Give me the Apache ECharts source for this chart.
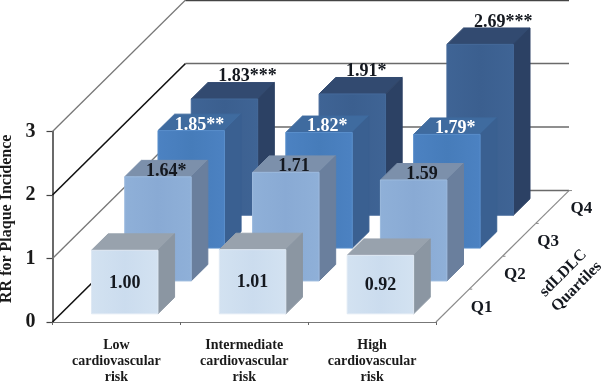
<!DOCTYPE html>
<html>
<head>
<meta charset="utf-8">
<style>html,body{margin:0;padding:0;background:#fff}#c{width:602px;height:381px}</style>
<script src="https://cdn.jsdelivr.net/npm/echarts@6/dist/echarts.min.js"></script>
</head>
<body>
<div id="c"></div>
<script>
const categories = ['Low\ncardiovascular\nrisk', 'Intermediate\ncardiovascular\nrisk', 'High\ncardiovascular\nrisk'];
const quartiles = ['Q1', 'Q2', 'Q3', 'Q4'];
const yTicks = [0, 1, 2, 3];
const q1Values = [1.00, 1.01, 0.92];
const q2Values = [1.64, 1.71, 1.59];
const q3Values = [1.85, 1.82, 1.79];
const q4Values = [1.83, 1.91, 2.69];
const q1Stars = ['', '', ''];
const q2Stars = ['*', '', ''];
const q3Stars = ['**', '*', '*'];
const q4Stars = ['***', '*', '***'];

// oblique projection of the depth axis onto the x / y scales
const DEPTH_X = 1.0404, DEPTH_Y = 2.07;
const SERIF = '"Liberation Serif","Times New Roman",serif';
const faces = [
  {front:['#d3e2f1','#cbdcee'], edge:'#dfe9f4', top:'#98a2ad', side:'#8b96a2', text:'#14181f'},
  {front:['#8fb0d8','#89aad4'], edge:'#9dbbdf', top:'#7c90ab', side:'#6a7f9d', text:'#14181f'},
  {front:['#4c82c2','#467cba'], edge:'#5a8fcb', top:'#3f6b9f', side:'#3a6091', text:'#ffffff'},
  {front:['#3f6495','#3b5f8f'], edge:'#45699a', top:'#324a70', side:'#2c4164', text:'#14181f'}
];
const valueLists = [q1Values, q2Values, q3Values, q4Values];
const starLists = [q1Stars, q2Stars, q3Stars, q4Stars];
const barData = [];
for (let q = quartiles.length - 1; q >= 0; q--) {
  for (let c = 0; c < categories.length; c++) barData.push([c, q, valueLists[q][c], starLists[q][c]]);
}

const BAR_W = 0.26;

function project(api, x, d, v) {
  const p = api.coord([x + d * DEPTH_X, v + d * DEPTH_Y]);
  return [p[0], p[1]];
}
function renderBar(params, api) {
  const c = api.value(0), q = api.value(1), v = api.value(2);
  const stars = barData[params.dataIndex][3];
  const f = faces[q];
  const mid = c + 0.5;
  const x0 = mid - BAR_W, x1 = mid + BAR_W;
  const d0 = (q + 0.25) / 4, d1 = (q + 0.75) / 4;
  const A = project(api, x0, d0, 0), B = project(api, x1, d0, 0), C = project(api, x1, d0, v), D = project(api, x0, d0, v);
  const E = project(api, x1, d1, 0), G = project(api, x1, d1, v), H = project(api, x0, d1, v);
  const poly = (pts, fill, stroke) => ({type:'polygon', shape:{points:pts}, style:{fill:fill, stroke:stroke || fill, lineWidth:1, lineJoin:'round'}});
  const kids = [
    poly([D, C, G, H], f.top),
    poly([B, E, G, C], f.side),
    poly([A, B, C, D], {type:'linear',x:0,y:0,x2:1,y2:0,colorStops:[{offset:0,color:f.front[0]},{offset:0.5,color:f.front[1]},{offset:1,color:f.front[0]}]}, f.edge)
  ];
  const font = 'bold 18px ' + SERIF;
  const label = v.toFixed(2) + stars;
  let tx, ty, align = 'center';
  const mx = (A[0] + B[0]) / 2;
  if (q === 0) { tx = mx; ty = (A[1] + D[1]) / 2 + 1; }
  else if (q === 3) { tx = D[0] + 27; ty = H[1] - 6; align = 'left'; }
  else { tx = (D[0] + G[0]) / 2; ty = (D[1] + G[1]) / 2 + 2.5; }
  kids.push({type:'text', style:{x:tx, y:ty, text:label, font:font, fill:f.text, align:align, verticalAlign:'middle'}});
  return {type:'group', children:kids};
}
function renderWall(params, api) {
  const v = api.value(0);
  const a = project(api, 0, 0, v), b = project(api, 0, 1, v), e = project(api, 3, 1, v);
  const dark = v === 0 || v === 2;
  const kids = [{type:'line', shape:{x1:a[0],y1:a[1],x2:b[0],y2:b[1]}, style:{stroke: dark ? '#111' : '#777', lineWidth: dark ? 1.6 : 1.3}},
                {type:'line', shape:{x1:b[0],y1:b[1],x2:e[0],y2:e[1]}, style:{stroke: v === 3 ? '#444' : '#6a6a6a', lineWidth: v === 3 ? 2.5 : 1.5}}];
  return {type:'group', children:kids};
}
function renderDepthAxis(params, api) {
  const i = api.value(0);
  const s = project(api, 3, i / 4, 0), e = project(api, 3, (i + 1) / 4, 0), m = project(api, 3, (i + 0.5) / 4, 0);
  return {type:'group', children:[
    {type:'line', shape:{x1:s[0],y1:s[1],x2:e[0],y2:e[1]}, style:{stroke:'#8a8a8a', lineWidth:1.2}},
    {type:'line', shape:{x1:e[0],y1:e[1],x2:e[0]+3,y2:e[1]}, style:{stroke:'#8a8a8a', lineWidth:1}},
    {type:'text', style:{x:m[0]+29, y:m[1]+2, text:quartiles[i], font:'bold 17px '+SERIF, fill:'#14181f', align:'center', verticalAlign:'middle'}}
  ]};
}

const chart = echarts.init(document.getElementById('c'), null, {renderer:'canvas'});
chart.setOption({
  animation:false,
  backgroundColor:'#fff',
  grid:{left:52.5, top:131.5, width:383.5, height:190.5, containLabel:false, outerBoundsMode:'none'},
  xAxis:[
    {type:'category', data:categories, boundaryGap:true, position:'bottom',
     axisLine:{show:true, lineStyle:{color:'#777', width:1.2}},
     axisTick:{show:true, alignWithLabel:false, length:3, lineStyle:{color:'#666'}},
     axisLabel:{interval:0, margin:15, color:'#1a1a1a', lineHeight:16, fontFamily:SERIF, fontWeight:'bold', fontSize:14, hideOverlap:false},
     splitLine:{show:false}, z:1},
    {type:'value', min:0, max:3, show:false}
  ],
  yAxis:{type:'value', min:yTicks[0], max:yTicks[yTicks.length-1], interval:1,
     name:'RR for Plaque Incidence', nameLocation:'middle', nameRotate:90, nameGap:36,
     nameTextStyle:{fontFamily:SERIF, fontWeight:'bold', fontSize:16, color:'#1a1a1a', padding:[0,0,0,16]},
     axisLine:{show:true, lineStyle:{color:'#444', width:1.6}},
     axisTick:{show:true, length:6, lineStyle:{color:'#444', width:1.2}},
     axisLabel:{margin:17, fontFamily:SERIF, fontWeight:'bold', fontSize:20, color:'#1a1a1a', hideOverlap:false, padding:[5,0,0,0]},
     splitLine:{show:false}},
  graphic:[{type:'text', rotation:Math.PI/4, x:570, y:280, z:50,
     style:{text:'sdLDLC\nQuartiles', font:'bold 16px '+SERIF, fill:'#14181f', align:'center', verticalAlign:'middle', lineHeight:19}}],
  series:[
    {type:'custom', name:'walls', xAxisIndex:1, yAxisIndex:0, clip:false, z:2, silent:true,
     data:yTicks.map(v => [v]), encode:{x:[], y:[]}, renderItem:renderWall},
    {type:'custom', name:'depth', xAxisIndex:1, yAxisIndex:0, clip:false, z:3, silent:true,
     data:quartiles.map((q,i) => [i]), encode:{x:[], y:[]}, renderItem:renderDepthAxis},
    {type:'custom', name:'bars', xAxisIndex:1, yAxisIndex:0, clip:false, z:4, silent:true,
     data:barData, encode:{x:0, y:2}, renderItem:renderBar}
  ]
});
</script>
</body>
</html>
